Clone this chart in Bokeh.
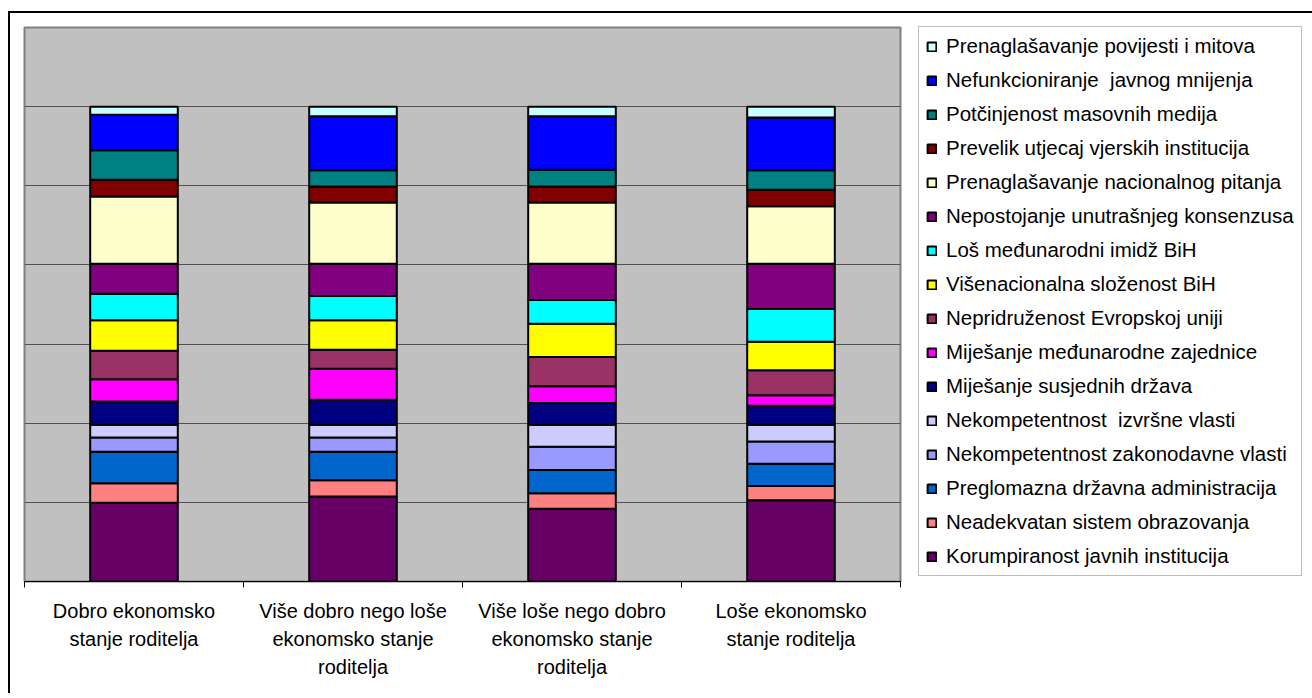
from bokeh.plotting import figure
from bokeh.models import Range1d, FixedTicker, Legend, LegendItem, ColumnDataSource, LinearAxis
from bokeh.embed import file_html
from bokeh.resources import INLINE

# ---------------- data ----------------
categories = [
    "Dobro ekonomsko\nstanje roditelja",
    "Više dobro nego loše\nekonomsko stanje\nroditelja",
    "Više loše nego dobro\nekonomsko stanje\nroditelja",
    "Loše ekonomsko\nstanje roditelja",
]

# series, bottom of stack first (percent)
korumpiranost = [16.6, 17.9, 15.3, 17.1]
neadekvatan_obrazovanje = [4.1, 3.4, 3.3, 3.0]
preglomazna_administracija = [6.6, 6.0, 4.9, 4.7]
nekompetentnost_zakonodavne = [3.0, 3.0, 4.9, 4.7]
nekompetentnost_izvrsne = [2.7, 2.7, 4.6, 3.5]
mijesanje_susjednih = [4.9, 5.3, 4.6, 4.0]
mijesanje_medjunarodne = [4.7, 6.5, 3.5, 2.2]
nepridruzenost_eu = [6.0, 4.0, 6.2, 5.3]
visenacionalna_slozenost = [6.4, 6.2, 7.0, 6.0]
los_imidz = [5.6, 5.1, 5.0, 6.9]
nepostojanje_konsenzusa = [6.3, 6.8, 7.6, 9.5]
nacionalno_pitanje = [14.2, 12.9, 12.9, 12.1]
vjerske_institucije = [3.5, 3.4, 3.4, 3.5]
masovni_mediji = [6.2, 3.4, 3.5, 4.1]
javno_mnijenje = [7.5, 11.4, 11.3, 11.1]
povijest_mitovi = [1.7, 2.0, 2.0, 2.3]

series_labels = [
    "Korumpiranost javnih institucija",
    "Neadekvatan sistem obrazovanja",
    "Preglomazna državna administracija",
    "Nekompetentnost zakonodavne vlasti",
    "Nekompetentnost  izvršne vlasti",
    "Miješanje susjednih država",
    "Miješanje međunarodne zajednice",
    "Nepridruženost Evropskoj uniji",
    "Višenacionalna složenost BiH",
    "Loš međunarodni imidž BiH",
    "Nepostojanje unutrašnjeg konsenzusa",
    "Prenaglašavanje nacionalnog pitanja",
    "Prevelik utjecaj vjerskih institucija",
    "Potčinjenost masovnih medija",
    "Nefunkcioniranje  javnog mnijenja",
    "Prenaglašavanje povijesti i mitova",
]
series_values = [
    korumpiranost, neadekvatan_obrazovanje, preglomazna_administracija,
    nekompetentnost_zakonodavne, nekompetentnost_izvrsne, mijesanje_susjednih,
    mijesanje_medjunarodne, nepridruzenost_eu, visenacionalna_slozenost,
    los_imidz, nepostojanje_konsenzusa, nacionalno_pitanje,
    vjerske_institucije, masovni_mediji, javno_mnijenje, povijest_mitovi,
]
series_colors = [
    "#660066", "#FF8080", "#0066CC", "#9999FF", "#CCCCFF", "#000080",
    "#FF00FF", "#993366", "#FFFF00", "#00FFFF", "#800080", "#FFFFCC",
    "#800000", "#008080", "#0000FF", "#CCFFFF",
]

# ---------------- figure ----------------
n = len(categories)
centers = [i + 0.5 for i in range(n)]
keys = ["s%d" % i for i in range(len(series_values))]
data = {"x": centers}
for k, v in zip(keys, series_values):
    data[k] = v
source = ColumnDataSource(data)

p = figure(
    output_backend="svg", toolbar_location=None,
    frame_width=876, frame_height=554,
    min_border_left=14, min_border_right=410, min_border_top=14, min_border_bottom=112,
    x_range=Range1d(0, n), y_range=Range1d(0, 700 / 6),
    x_axis_location=None, y_axis_location=None,
)
p.styles = {"border-left": "2px solid black", "border-top": "2px solid black",
            "margin-top": "11px", "margin-left": "8px"}

p.background_fill_color = "#C0C0C0"
p.border_fill_color = "white"
p.outline_line_color = "#808080"
p.outline_line_width = 2

renderers = p.vbar_stack(
    keys, x="x", width=0.4, source=source,
    fill_color=series_colors, line_color="black", line_width=2,
)

# x axis: labels at centers, ticks at category boundaries
xaxis = LinearAxis(
    ticker=FixedTicker(ticks=centers, minor_ticks=list(range(n + 1))),
    major_label_overrides={c: lab for c, lab in zip(centers, categories)},
)
xaxis.axis_line_color = "black"
xaxis.axis_line_width = 1
xaxis.major_tick_line_color = None
xaxis.major_tick_out = 0
xaxis.major_tick_in = 0
xaxis.minor_tick_line_color = "black"
xaxis.minor_tick_out = 6
xaxis.minor_tick_in = 0
xaxis.major_label_text_font = "Liberation Sans"
xaxis.major_label_text_font_size = "20px"
xaxis.major_label_text_color = "black"
xaxis.major_label_text_line_height = 1.28
xaxis.major_label_standoff = 12
xaxis.major_label_orientation = "horizontal"
p.add_layout(xaxis, "below")

p.xgrid.visible = False
p.ygrid.ticker = FixedTicker(ticks=[k * 100 / 6 for k in range(1, 7)])
p.ygrid.grid_line_color = "#505050"
p.ygrid.grid_line_width = 1

items = [LegendItem(label=lab, renderers=[r]) for lab, r in zip(series_labels, renderers)]
items.reverse()
legend = Legend(
    items=items, location=(18, 5),
    border_line_color="#808080", border_line_width=1,
    background_fill_color="white", background_fill_alpha=1,
    label_text_font="Liberation Sans", label_text_font_size="20.5px", label_text_color="black",
    glyph_width=11, glyph_height=11, label_height=23, spacing=10, padding=7,
    label_standoff=9, margin=0,
)
p.add_layout(legend, "right")

open("out.html", "w").write(file_html(p, INLINE))
